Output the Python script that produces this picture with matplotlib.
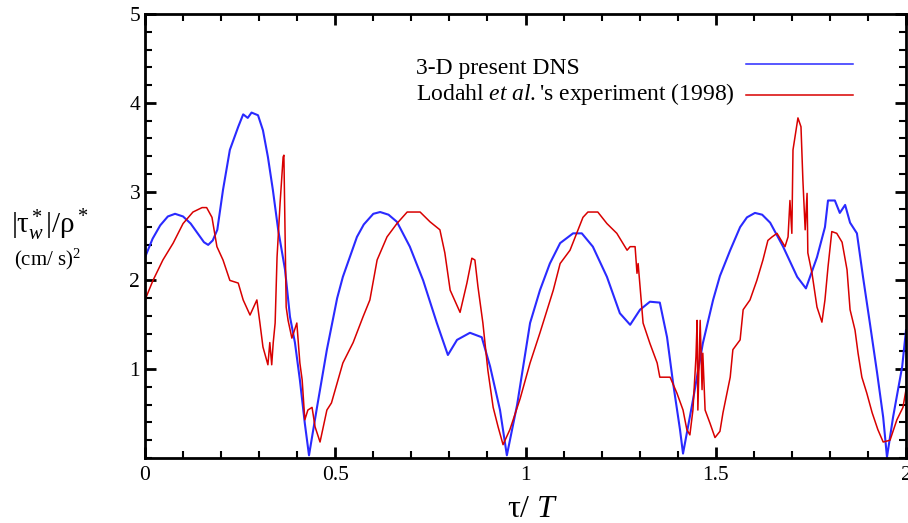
import numpy as np
import matplotlib
matplotlib.use("Agg")
from matplotlib import pyplot as plt
from matplotlib.ticker import MultipleLocator

plt.rcParams['font.family'] = ['Liberation Serif', 'DejaVu Serif']
plt.rcParams['mathtext.fontset'] = 'custom'
plt.rcParams['mathtext.rm'] = 'Liberation Serif'
plt.rcParams['mathtext.it'] = 'Liberation Serif:italic'
plt.rcParams['mathtext.bf'] = 'Liberation Serif:bold'

# wall shear stress, 3-D DNS
dns_t = [0.0, 0.02, 0.04, 0.06, 0.079, 0.1, 0.12, 0.14, 0.155, 0.166, 0.178,
         0.19, 0.205, 0.223, 0.245,
         0.258, 0.27, 0.28, 0.297, 0.31, 0.323, 0.336, 0.35, 0.368, 0.381, 0.394,
         0.407, 0.42, 0.431, 0.452, 0.478, 0.505, 0.52, 0.557, 0.575, 0.6, 0.618,
         0.64, 0.662, 0.696, 0.731, 0.767, 0.796, 0.82, 0.854, 0.885, 0.907, 0.933,
         0.951, 0.978, 1.012, 1.038, 1.064, 1.091, 1.125, 1.148, 1.177, 1.214,
         1.248, 1.275, 1.301, 1.327, 1.353, 1.372, 1.388, 1.406, 1.414, 1.44,
         1.466, 1.493, 1.511, 1.538, 1.564, 1.582, 1.603, 1.622, 1.643, 1.677,
         1.714, 1.737, 1.766, 1.787, 1.795, 1.813, 1.826, 1.84, 1.853, 1.871,
         1.887, 1.905, 1.924, 1.94, 1.95, 1.966, 1.99, 2.0]
dns_tau = [2.26, 2.47, 2.62, 2.72, 2.75, 2.72, 2.64, 2.52, 2.43, 2.40, 2.45,
           2.57, 3.02, 3.47, 3.73,
           3.87, 3.83, 3.89, 3.86, 3.69, 3.39, 3.02, 2.57, 2.12, 1.59, 1.30,
           0.88, 0.39, 0.03, 0.57, 1.22, 1.80, 2.04, 2.49, 2.63, 2.75, 2.77,
           2.74, 2.66, 2.38, 2.00, 1.52, 1.16, 1.33, 1.41, 1.36, 1.03, 0.54,
           0.03, 0.60, 1.52, 1.89, 2.19, 2.42, 2.53, 2.53, 2.38, 2.04,
           1.63, 1.50, 1.67, 1.76, 1.75, 1.36, 0.84, 0.32, 0.05, 0.65,
           1.29, 1.78, 2.05, 2.34, 2.60, 2.71, 2.76, 2.74, 2.65, 2.38,
           2.04, 1.91, 2.26, 2.60, 2.90, 2.90, 2.76, 2.85, 2.65, 2.53,
           2.04, 1.52, 0.96, 0.46, 0.01, 0.46, 1.03, 1.44]

# Lodahl et al. (1998) measurements
exp_t = [0.0, 0.021, 0.047, 0.074, 0.1, 0.126, 0.15, 0.162, 0.176, 0.189, 0.205,
         0.223, 0.245, 0.258, 0.276, 0.294, 0.302, 0.31, 0.323, 0.328, 0.333,
         0.337, 0.342, 0.347, 0.355, 0.363, 0.365, 0.371, 0.376, 0.386, 0.399,
         0.407, 0.413, 0.42, 0.428, 0.439, 0.447, 0.46, 0.478, 0.49, 0.52,
         0.547, 0.573, 0.591, 0.61, 0.636, 0.662, 0.689, 0.723, 0.749, 0.775,
         0.788, 0.802, 0.828, 0.846, 0.859, 0.867, 0.875, 0.888, 0.901, 0.915,
         0.928, 0.941, 0.959, 0.986, 1.012, 1.038, 1.057, 1.073, 1.091, 1.117,
         1.138, 1.151, 1.164, 1.19, 1.214, 1.24, 1.267, 1.275, 1.288, 1.293,
         1.296, 1.301, 1.309, 1.327, 1.346, 1.353, 1.38, 1.398, 1.414, 1.424,
         1.432, 1.44, 1.448, 1.451, 1.453, 1.459, 1.464, 1.466, 1.472, 1.485,
         1.498, 1.511, 1.519, 1.538, 1.545, 1.564, 1.572, 1.59, 1.608, 1.624,
         1.637, 1.648, 1.661, 1.682, 1.69, 1.695, 1.7, 1.703, 1.711, 1.716,
         1.724, 1.729, 1.735, 1.74, 1.742, 1.753, 1.766, 1.779, 1.787, 1.795,
         1.805, 1.818, 1.832, 1.845, 1.853, 1.866, 1.874, 1.884, 1.897, 1.911,
         1.926, 1.94, 1.958, 1.976, 1.992, 2.0]
exp_tau = [1.78, 2.00, 2.23, 2.42, 2.64, 2.77, 2.82, 2.82, 2.71, 2.38, 2.23,
           2.00, 1.97, 1.78, 1.61, 1.78, 1.52, 1.25, 1.05, 1.30, 1.05,
           1.30, 1.52, 2.26, 2.87, 3.39, 3.41, 1.70, 1.55, 1.35, 1.52,
           1.07, 0.88, 0.43, 0.54, 0.57, 0.35, 0.18, 0.54, 0.62, 1.07,
           1.30, 1.59, 1.78, 2.23, 2.49, 2.64, 2.77, 2.77, 2.66, 2.57,
           2.31, 1.89, 1.64, 1.97, 2.25, 2.23, 1.93, 1.52, 0.99, 0.57,
           0.35, 0.15, 0.32, 0.67, 1.07, 1.41, 1.67, 1.89, 2.19, 2.34,
           2.57, 2.71, 2.77, 2.77, 2.64, 2.53, 2.34, 2.38, 2.38, 2.08,
           2.19, 1.93, 1.52, 1.29, 1.07, 0.91, 0.91, 0.73, 0.54, 0.32,
           0.26, 0.54, 1.14, 1.55, 0.54, 1.55, 0.77, 1.18, 0.54, 0.39,
           0.23, 0.30, 0.51, 0.91, 1.22, 1.33, 1.67, 1.78, 2.00, 2.23,
           2.45, 2.49, 2.53, 2.38, 2.49, 2.90, 2.53, 3.47, 3.69, 3.83,
           3.73, 3.13, 2.57, 2.98, 2.31, 2.08, 1.70, 1.53, 1.78, 2.15,
           2.55, 2.53, 2.43, 2.12, 1.67, 1.44, 1.18, 0.91, 0.73, 0.51,
           0.32, 0.18, 0.20, 0.43, 0.57, 0.77]

legend_labels = ["3-D present DNS", "Lodahl $et\\ al.$'s experiment (1998)"]

fig = plt.figure(figsize=(9.08, 5.23), dpi=100)
ax = fig.add_axes([0.1597, 0.1243, 0.8381, 0.8489])

ax.plot(dns_t, dns_tau, color='#2a2aff', lw=1.5)
ax.plot(exp_t, exp_tau, color='#d80000', lw=1.1)

ax.set_xlim(0, 2)
ax.set_ylim(0, 5)
ax.xaxis.set_major_locator(MultipleLocator(0.5))
ax.xaxis.set_minor_locator(MultipleLocator(0.1))
ax.yaxis.set_major_locator(MultipleLocator(1))
ax.yaxis.set_minor_locator(MultipleLocator(0.2))
ax.set_xticks([0, 0.5, 1, 1.5, 2])
ax.set_xticklabels(['0', '0.5', '1', '1.5', '2'])
ax.set_yticks([1, 2, 3, 4, 5])
ax.tick_params(which='both', direction='in', top=True, right=True,
               labelsize=15.5, width=1.5)
ax.tick_params(which='major', length=8, width=2)
ax.tick_params(which='minor', length=5)
ax.tick_params(axis='x', pad=6)
for s in ax.spines.values():
    s.set_linewidth(2)

# legend drawn by hand: labels on the left, line samples on the right
ax.text(0.356, 0.878, legend_labels[0], transform=ax.transAxes,
        fontsize=17, va='center', ha='left')
ax.text(0.356, 0.819, legend_labels[1], transform=ax.transAxes,
        fontsize=17, va='center', ha='left')
ax.plot([0.790, 0.930], [0.887, 0.887], transform=ax.transAxes,
        color='#2a2aff', lw=1.1)
ax.plot([0.790, 0.930], [0.818, 0.818], transform=ax.transAxes,
        color='#d80000', lw=1.1)

fig.text(0.055, 0.57, r'$|\mathrm{\tau}^*_w|/\mathrm{\rho}^*$',
         fontsize=21, ha='center', va='center')
fig.text(0.052, 0.505, r'(cm/ s)$^2$', fontsize=15, ha='center', va='center')
fig.text(0.586, 0.026, r'$\mathrm{\tau}/\ T$', fontsize=23, ha='center',
         va='center')

fig.savefig('out.png', dpi=100)
